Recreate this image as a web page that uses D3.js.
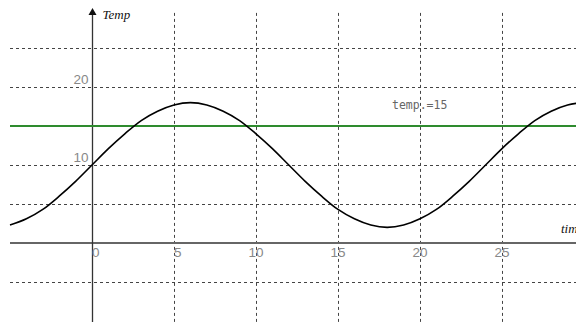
<!DOCTYPE html>
<html>
<head>
<meta charset="utf-8">
<script src="https://cdn.jsdelivr.net/npm/d3@7"></script>
<style>
  html, body { margin: 0; padding: 0; background: #fff; }
  svg { display: block; }
  .grid line { stroke: #444; stroke-width: 1; stroke-dasharray: 3,3; }
  .tick-label { font-family: "Liberation Sans Narrow", "Liberation Sans", sans-serif; font-size: 13.5px; fill: #888; }
  .axis-title { font-family: "Liberation Serif", serif; font-style: italic; font-size: 13px; fill: #111; }
  .thr-label { font-family: "DejaVu Sans Mono", monospace; font-size: 11.5px; fill: #666; }
</style>
</head>
<body>
<svg id="chart" width="576" height="322"></svg>
<script>
// --- data -------------------------------------------------------------------
const times = [-5,-4,-3,-2,-1,0,1,2,3,4,5,6,7,8,9,10,11,12,13,14,15,16,17,18,19,20,21,22,23,24,25,26,27,28,29,30];
const temps = [2.3,3.1,4.3,6.0,7.9,10,12.1,14.0,15.7,16.9,17.7,18,17.7,16.9,15.7,14.0,12.1,10,7.9,6.0,4.3,3.1,2.3,2,2.3,3.1,4.3,6.0,7.9,10,12.1,14.0,15.7,16.9,17.7,18];
const xTicks = [0,5,10,15,20,25];
const xGrid  = [5,10,15,20,25];
const yTicks = [10,20];
const yGrid  = [-5,5,10,15,20,25];
const threshold = 15;
const thresholdLabel = 'temp.=15';

// --- layout -----------------------------------------------------------------
const svg = d3.select('#chart');
const W = 576, H = 322;
const x = d3.scaleLinear().domain([-5, 30]).range([10, 10 + 35*16.4]);
const y = d3.scaleLinear().domain([-10, 30]).range([321, 9]);
const x0 = Math.round(x(0)) + 0.5, y0 = Math.round(y(0));

// gridlines
const grid = svg.append('g').attr('class','grid');
grid.selectAll('line.h').data(yGrid).join('line').attr('class','h')
  .attr('x1', x(-5)).attr('x2', W)
  .attr('y1', d=>Math.round(y(d))+0.5).attr('y2', d=>Math.round(y(d))+0.5);
grid.selectAll('line.v').data(xGrid).join('line').attr('class','v')
  .attr('x1', d=>Math.round(x(d))+0.5).attr('x2', d=>Math.round(x(d))+0.5)
  .attr('y1', y(29.5)).attr('y2', H);

// x axis (horizontal line)
svg.append('line').attr('x1', x(-5)).attr('x2', W).attr('y1', y0).attr('y2', y0)
  .attr('stroke','#666').attr('stroke-width',2);
// y axis with arrow
svg.append('line').attr('x1', x0).attr('x2', x0).attr('y1', 12).attr('y2', H)
  .attr('stroke','#333').attr('stroke-width',1.3);
svg.append('path').attr('d', `M${x0-4},${15} L${x0},${8} L${x0+4},${15} Z`).attr('fill','#111');

// tick labels
svg.selectAll('text.xt').data(xTicks).join('text').attr('class','tick-label xt')
  .attr('x', d=>x(d)+7.5).attr('y', y0+14).attr('text-anchor','end').text(d=>d);
svg.selectAll('text.yt').data(yTicks).join('text').attr('class','tick-label yt')
  .attr('x', x0-4).attr('y', d=>y(d)-3).attr('text-anchor','end').text(d=>d);

// axis titles
svg.append('text').attr('class','axis-title').attr('x', x0+10).attr('y', 19).text('Temp');
svg.append('text').attr('class','axis-title').attr('x', 561).attr('y', y0-10).text('time');

// threshold line
svg.append('line').attr('x1', x(-5)).attr('x2', W)
  .attr('y1', Math.round(y(threshold))).attr('y2', Math.round(y(threshold)))
  .attr('stroke','#2e8b2e').attr('stroke-width',2);
svg.append('text').attr('class','thr-label').attr('x', 392).attr('y', y(threshold)-17).text(thresholdLabel);

// curve
const line = d3.line().x((d,i)=>x(times[i])).y(d=>y(d)).curve(d3.curveMonotoneX);
svg.append('path').datum(temps).attr('d', line)
  .attr('fill','none').attr('stroke','#000').attr('stroke-width',1.6);
</script>
</body>
</html>
